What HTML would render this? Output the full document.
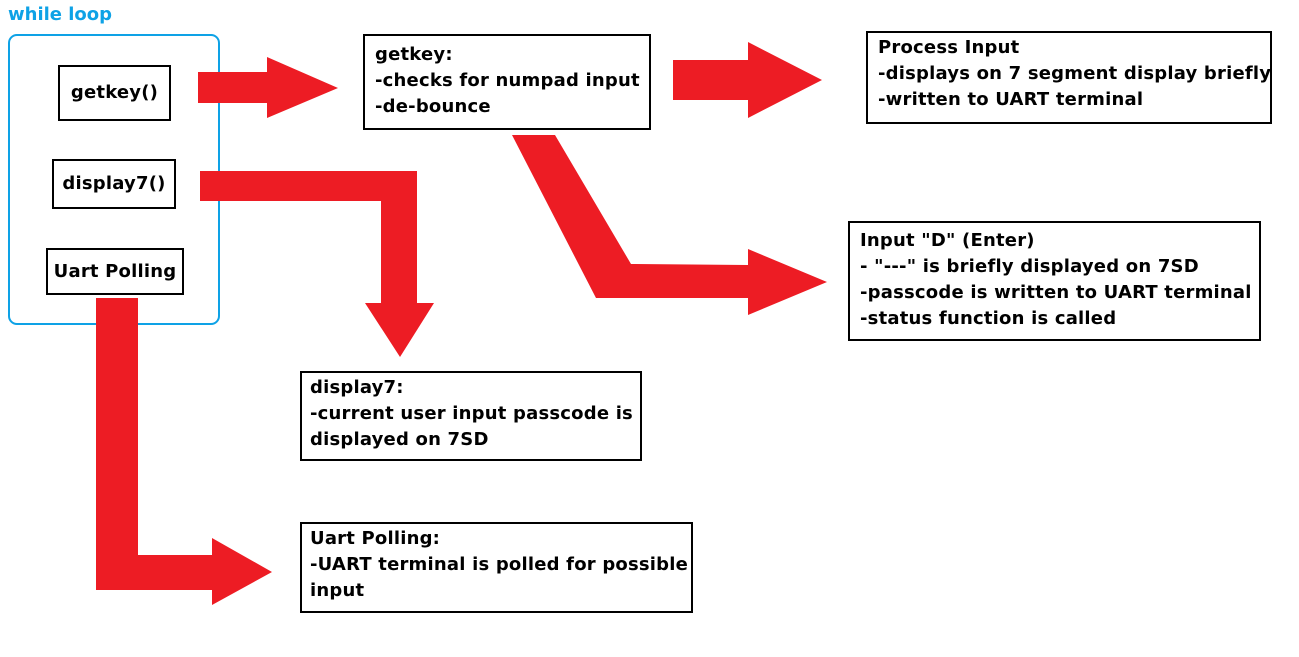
<!DOCTYPE html>
<html><head><style>
body{margin:0;width:1299px;height:657px;background:#fff;position:relative;overflow:hidden;font-family:"DejaVu Sans","Liberation Sans",sans-serif;font-weight:bold;}
.b{position:absolute;border:2px solid #000;box-sizing:border-box;font-size:18px;line-height:26px;padding:2px 0 0 10px;color:#000;white-space:nowrap;letter-spacing:0.2px}
.c{display:flex;align-items:center;justify-content:center;padding:0}
svg{position:absolute;left:0;top:0}
</style></head><body>
<div style="position:absolute;left:8px;top:4px;color:#0ea2e6;font-size:18px">while loop</div>
<div style="position:absolute;left:8px;top:34px;width:212px;height:291px;border:2px solid #0ea2e6;border-radius:9px;box-sizing:border-box"></div>
<svg width="1299" height="657">
<g fill="#ed1c24">
<polygon points="198,72 267,72 267,57 338,88 267,118 267,103 198,103"/>
<polygon points="200,171 417,171 417,303 434,303 400,357 365,303 381,303 381,201 200,201"/>
<polygon points="96,298 138,298 138,555 212,555 212,538 272,572 212,605 212,590 96,590"/>
<polygon points="673,60 748,60 748,42 822,80 748,118 748,100 673,100"/>
<polygon points="512,135 555,135 631,264 748,265 748,249 827,282 748,315 748,298 596,298"/>
</g></svg>
<div class="b c" style="left:58px;top:65px;width:113px;height:56px">getkey()</div>
<div class="b c" style="left:52px;top:159px;width:124px;height:50px">display7()</div>
<div class="b c" style="left:46px;top:248px;width:138px;height:47px">Uart Polling</div>
<div class="b" style="left:363px;top:34px;width:288px;height:96px;padding-top:6px">getkey:<br>-checks for numpad input<br>-de-bounce</div>
<div class="b" style="left:866px;top:31px;width:406px;height:93px;padding-top:2px">Process Input<br>-displays on 7 segment display briefly<br>-written to UART terminal</div>
<div class="b" style="left:848px;top:221px;width:413px;height:120px;padding-top:5px">Input "D" (Enter)<br>- "---" is briefly displayed on 7SD<br>-passcode is written to UART terminal<br>-status function is called</div>
<div class="b" style="left:300px;top:371px;width:342px;height:90px;padding-top:2px;padding-left:8px">display7:<br>-current user input passcode is<br>displayed on 7SD</div>
<div class="b" style="left:300px;top:522px;width:393px;height:91px;padding-top:2px;padding-left:8px">Uart Polling:<br>-UART terminal is polled for possible<br>input</div>
</body></html>
